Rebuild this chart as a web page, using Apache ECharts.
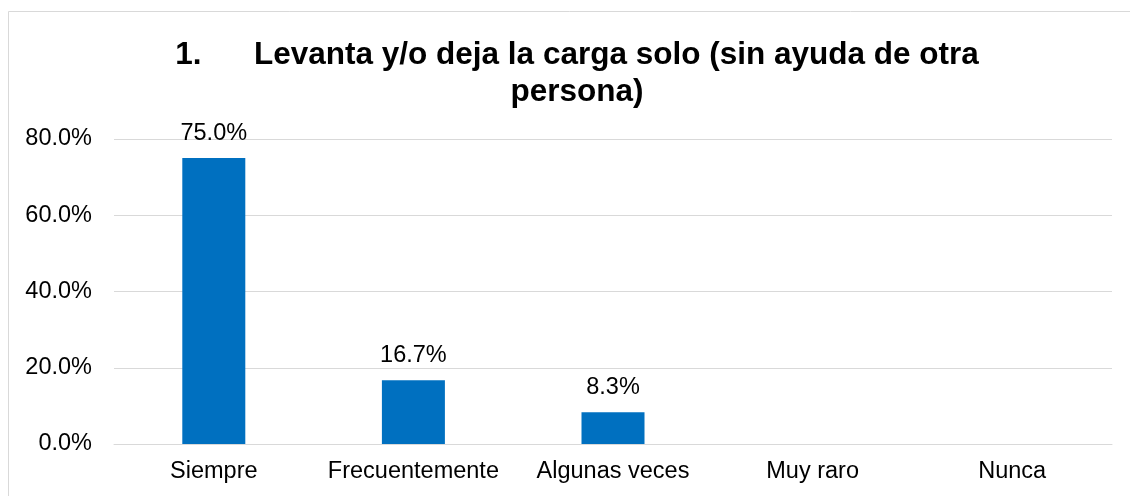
<!DOCTYPE html>
<html>
<head>
<meta charset="utf-8">
<script src="https://cdn.jsdelivr.net/npm/echarts@6/dist/echarts.min.js"></script>
<style>html,body{margin:0;padding:0;background:#fff}#c{width:1130px;height:496px}</style>
</head>
<body>
<div id="c"></div>
<script>
const categories = ['Siempre', 'Frecuentemente', 'Algunas veces', 'Muy raro', 'Nunca'];
const values = [75.0, 16.7, 8.3, null, null];
const yTicks = [0, 20, 40, 60, 80];
const titleText = '1.      Levanta y/o deja la carga solo (sin ayuda de otra\npersona)';

const chart = echarts.init(document.getElementById('c'));
chart.setOption({
  animation: false,
  backgroundColor: '#fff',
  graphic: [{
    type: 'rect', shape: {x: 8.5, y: 11.5, width: 1140, height: 500},
    style: {fill: 'none', stroke: '#d9d9d9', lineWidth: 1}, z: -1
  }],
  title: {
    text: titleText, left: 572, top: 32, textAlign: 'center',
    textStyle: {fontFamily: 'Liberation Sans', fontWeight: 'bold', fontSize: 31.5, color: '#000', lineHeight: 37}
  },
  grid: {left: 114, right: 18, top: 139, bottom: 52, containLabel: false},
  xAxis: {
    type: 'category', data: categories,
    axisLine: {show: true, lineStyle: {color: '#d9d9d9', width: 1}},
    axisTick: {show: false},
    axisLabel: {interval: 0, fontFamily: 'Liberation Sans', fontSize: 23.5, color: '#000', margin: 16}
  },
  yAxis: {
    type: 'value', min: yTicks[0], max: yTicks[yTicks.length - 1], interval: 20,
    axisLine: {show: false}, axisTick: {show: false},
    splitLine: {lineStyle: {color: '#d9d9d9', width: 1}},
    axisLabel: {fontFamily: 'Liberation Sans', fontSize: 23.5, color: '#000', margin: 22,
      formatter: v => v.toFixed(1) + '%'}
  },
  series: [{
    type: 'bar', data: values, barWidth: 63,
    itemStyle: {color: '#0070c0'},
    label: {show: true, position: 'top', distance: 13, fontFamily: 'Liberation Sans', fontSize: 23.5, color: '#000',
      formatter: p => p.value == null ? '' : p.value.toFixed(1) + '%'}
  }]
});
</script>
</body>
</html>
